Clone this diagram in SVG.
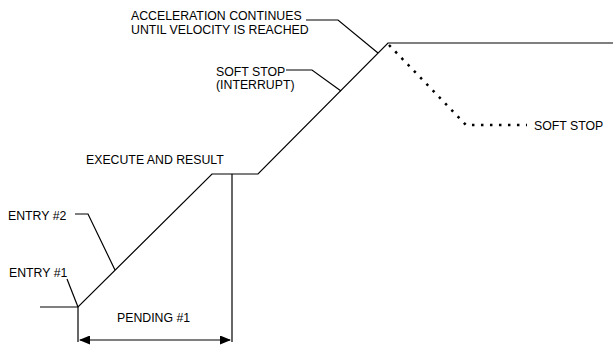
<svg xmlns="http://www.w3.org/2000/svg" width="613" height="345" viewBox="0 0 613 345">
<style>
.ln{fill:none;stroke:#000;stroke-width:1.2}
.dot{fill:none;stroke:#000;stroke-width:2.5;stroke-dasharray:2.5 6.5}
.t{font-family:"Liberation Sans",Arial,sans-serif;font-size:12.3px;fill:#000}
</style>
<defs>
<marker id="ah" markerWidth="11" markerHeight="9" refX="10" refY="4.5" orient="auto-start-reverse" markerUnits="userSpaceOnUse">
<path d="M0,0 L11,4.5 L0,9 Z" fill="#000"/>
</marker>
</defs>
<g id="connectors">
<polyline class="ln" points="40,307 78,307 212,174 258,174 388,43 613,43"/>
<polyline class="dot" points="389,45 466,125 527,125"/>
<line class="ln" x1="78" y1="307" x2="78" y2="342"/>
<line class="ln" x1="232" y1="174" x2="232" y2="342"/>
<line class="ln" x1="80" y1="340" x2="230" y2="340" marker-start="url(#ah)" marker-end="url(#ah)"/>
<polyline class="ln" points="75,214 88,214 115,270"/>
<line class="ln" x1="67" y1="279" x2="78" y2="307"/>
<polyline class="ln" points="306,20 338,20 378,53"/>
<polyline class="ln" points="286,70 312,70 341,91"/>
</g>
<g id="accel"><text class="t" x="131" y="20">ACCELERATION CONTINUES</text><text class="t" x="131" y="34">UNTIL VELOCITY IS REACHED</text></g>
<g id="softstop-int"><text class="t" x="216" y="76">SOFT STOP</text><text class="t" x="216" y="89">(INTERRUPT)</text></g>
<g id="softstop"><text class="t" x="534" y="130">SOFT STOP</text></g>
<g id="execute"><text class="t" x="86" y="164">EXECUTE AND RESULT</text></g>
<g id="entry2"><text class="t" x="8" y="220">ENTRY #2</text></g>
<g id="entry1"><text class="t" x="9" y="277">ENTRY #1</text></g>
<g id="pending"><text class="t" x="117" y="322">PENDING #1</text></g>
</svg>
